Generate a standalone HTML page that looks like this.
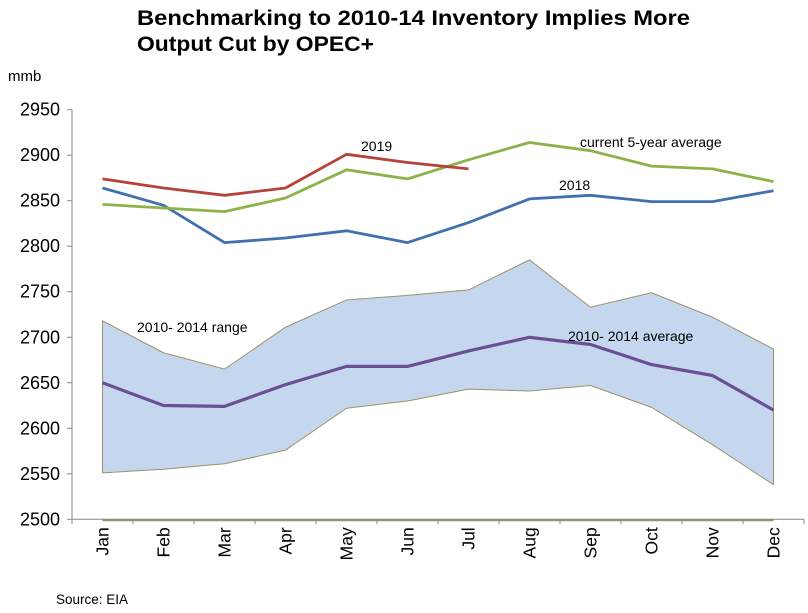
<!DOCTYPE html>
<html><head><meta charset="utf-8"><style>
body{margin:0;background:#fff;width:808px;height:613px;overflow:hidden;font-family:"Liberation Sans",Arial,sans-serif}
svg{position:absolute;left:0;top:0}
</style></head><body>
<svg width="808" height="613" id="chart">
<text x="137" y="25" font-size="21.5" font-weight="bold" textLength="553" lengthAdjust="spacingAndGlyphs">Benchmarking to 2010-14 Inventory Implies More</text>
<text x="137" y="51" font-size="21.5" font-weight="bold" textLength="237" lengthAdjust="spacingAndGlyphs">Output Cut by OPEC+</text>
<text x="8" y="81" font-size="15">mmb</text>
<text x="56" y="604" font-size="13.5">Source: EIA</text>
<g id="plot"></g>
</svg>
<script>
const months=["Jan","Feb","Mar","Apr","May","Jun","Jul","Aug","Sep","Oct","Nov","Dec"];
const yTicks=[2500,2550,2600,2650,2700,2750,2800,2850,2900,2950];
const s2019=[2874,2864,2856,2864,2901,2892,2885];
const s5yr=[2846,2842,2838,2853,2884,2874,2895,2914,2905,2888,2885,2871];
const s2018=[2864,2845,2804,2809,2817,2804,2826,2852,2856,2849,2849,2861];
const rangeHigh=[2718,2683,2665,2711,2741,2746,2752,2785,2733,2749,2722,2687];
const rangeLow=[2551,2555,2561,2576,2622,2630,2643,2641,2647,2623,2582,2538];
const avg1014=[2650,2625,2624,2648,2668,2668,2685,2700,2692,2670,2658,2620];

const NS="http://www.w3.org/2000/svg";
const L=72,R=804,T=109.7,B=519.3,ymin=2500,ymax=2950;
const bw=(R-L)/months.length;
const x=i=>L+bw*(i+0.5);
const y=v=>B-(v-ymin)/(ymax-ymin)*(B-T);
const g=document.getElementById('plot');
function mk(tag,attrs){const e=document.createElementNS(NS,tag);for(const k in attrs)e.setAttribute(k,attrs[k]);g.appendChild(e);return e;}
function pts(arr){return arr.map((v,i)=>x(i).toFixed(1)+","+y(v).toFixed(1)).join(" ");}

const up=rangeHigh.map((v,i)=>x(i)+","+y(v));
const lo=rangeLow.map((v,i)=>x(i)+","+y(v)).reverse();
const band=mk('polygon',{points:up.concat(lo).join(" "),fill:"#c4d7ee",stroke:"#9c9366","stroke-width":1});



const base=mk('line',{x1:x(0),x2:x(months.length-1),y1:y(2500)+1,y2:y(2500)+1,stroke:"#9c9366","stroke-width":2});



const ya=mk('line',{x1:L,x2:L,y1:T,y2:B,stroke:"#888","stroke-width":1});


const xa=mk('line',{x1:L,x2:R,y1:B,y2:B,stroke:"#888","stroke-width":1});



yTicks.forEach(v=>{
  const t=mk('line',{x1:L-5,x2:L,y1:y(v),y2:y(v),stroke:"#888"});
  
  
  const tx=mk('text',{x:L-12,y:y(v)+6,"font-size":18,"text-anchor":"end"});
  tx.textContent=v;
  
  
});
for(let i=0;i<=months.length;i++){
  const t=mk('line',{x1:L+bw*i,x2:L+bw*i,y1:B,y2:B+5,stroke:"#888"});
  
  
}
months.forEach((m,i)=>{
  const tx=mk('text',{x:0,y:0,"font-size":17.5,"text-anchor":"end",transform:`translate(${x(i)+6},${B+8}) rotate(-90)`});
  tx.textContent=m;
  
  
});

function line(arr,color,w,name){
  const p=mk('polyline',{points:pts(arr),fill:"none",stroke:color,"stroke-width":w,"stroke-linejoin":"round"});
  
  
}
line(avg1014,"#6a4f93",3.2,'series-2010-2014-average');
line(s2018,"#4170ae",2.8,'series-2018');
line(s5yr,"#8cb24a",2.8,'series-5yr-average');
line(s2019,"#b6433b",2.8,'series-2019');

function lab(t,xx,yy,name){
  const e=mk('text',{x:xx,y:yy,"font-size":14});
  e.textContent=t;
  
  
}
lab("2019",361,151,'label-2019');
lab("current 5-year average",580,147,'label-5yr-average');
lab("2018",559,190,'label-2018');
lab("2010- 2014 range",137,332,'label-range');
lab("2010- 2014 average",568,341,'label-average');
</script>
</body></html>
